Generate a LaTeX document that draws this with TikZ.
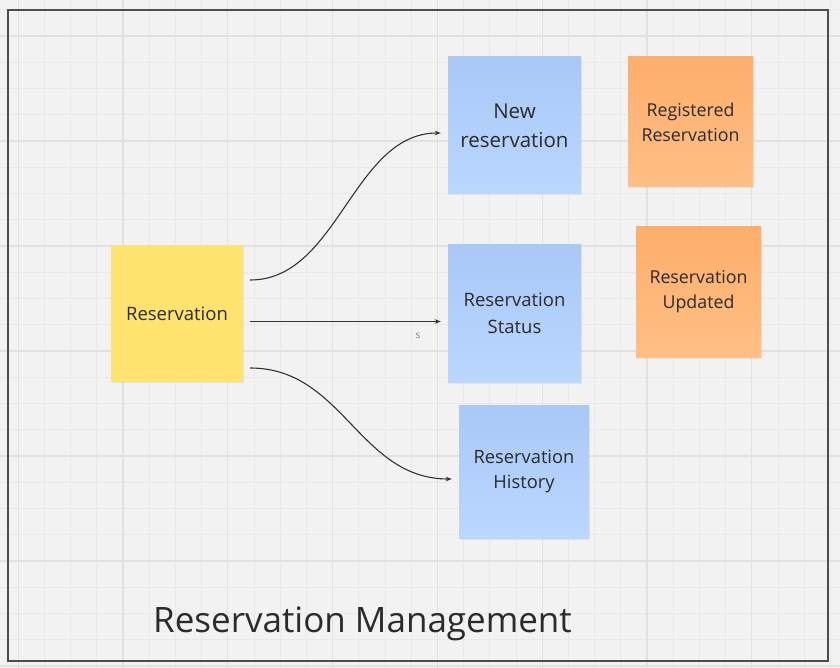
\documentclass[tikz,border=0pt]{standalone}
\usepackage{fontspec}
\setmainfont{Open Sans}
\usetikzlibrary{calc,arrows.meta,shadows}
\definecolor{bgc}{HTML}{F2F2F2}
\definecolor{gminor}{HTML}{E9E9E9}
\definecolor{gmajor}{HTML}{E1E1E1}
\definecolor{framec}{HTML}{4D4D4D}
\definecolor{yel}{HTML}{FEE46E}
\definecolor{bluetop}{HTML}{A9C8F6}
\definecolor{bluebot}{HTML}{B9D7FF}
\definecolor{orangetop}{HTML}{FDAE6B}
\definecolor{orangebot}{HTML}{FFBF85}
\definecolor{txt}{HTML}{2B2B2B}
\definecolor{linec}{HTML}{333333}
\tikzset{
  gridminor/.style={gminor, line width=0.8pt},
  gridmajor/.style={gmajor, line width=1.2pt},
  sticky/.style={draw=none, align=center, inner sep=0pt, text=txt,
    drop shadow={shadow xshift=0.8pt, shadow yshift=-1.5pt, opacity=0.12}},
  yellowsticky/.style={sticky, fill=yel},
  bluesticky/.style={sticky, top color=bluetop, bottom color=bluebot},
  orangesticky/.style={sticky, top color=orangetop, bottom color=orangebot},
  conn/.style={linec, line width=1.1pt, -{Stealth[length=6pt,width=4.5pt]},
    shorten >=7pt, shorten <=7pt},
}
\begin{document}
\begin{tikzpicture}[x=1pt,y=-1pt]
\useasboundingbox (0,0) rectangle (840,668);
\fill[bgc] (0,0) rectangle (840,668);
% grid
\foreach \i in {0,...,33} \draw[gridminor] ({-8+26.2*\i},0) -- ({-8+26.2*\i},668);
\foreach \i in {-1,...,25} \draw[gridminor] (0,{9.75+26.25*\i}) -- (840,{9.75+26.25*\i});
\foreach \i in {0,...,8} \draw[gridmajor] ({18.2+104.8*\i},0) -- ({18.2+104.8*\i},668);
\foreach \i in {0,...,6} \draw[gridmajor] (0,{36+105*\i}) -- (840,{36+105*\i});
% frame
\draw[framec, line width=2pt] (8,10) rectangle (828,661);
% stickies
\node[yellowsticky, minimum width=132pt, minimum height=136pt, font=\fontsize{18.5}{27}\selectfont] (res) at (177,313.5) {Reservation};
\node[bluesticky, minimum width=133pt, minimum height=137pt, font=\fontsize{20.5}{29}\selectfont] (new) at (514.5,125.5) {New\\reservation};
\node[bluesticky, minimum width=133pt, minimum height=137pt, font=\fontsize{18.5}{27}\selectfont] (status) at (514.5,313.5) {Reservation\\Status};
\node[bluesticky, minimum width=130pt, minimum height=133pt, font=\fontsize{18.3}{25.5}\selectfont] (hist) at (524,471.5) {Reservation\\History};
\node[orangesticky, minimum width=125pt, minimum height=130pt, font=\fontsize{17.8}{25}\selectfont] (reg) at (690.5,122) {Registered\\Reservation};
\node[orangesticky, minimum width=125pt, minimum height=130pt, font=\fontsize{17.8}{25}\selectfont] (upd) at (698.5,292) {Reservation\\Updated};
% connectors
\draw[conn] ($(res.east)+(0,-33.5)$) .. controls +(95,0) and +(-95,0) .. ($(new.west)+(0,7.5)$);
\draw[conn] ($(res.east)+(0,8)$) -- node[pos=0.854, yshift=-14pt, font=\fontsize{10}{12}\selectfont, text=gray] (slabel) {s} ($(status.west)+(0,8)$);
\draw[conn] ($(res.east)+(0,54.5)$) .. controls +(100,0) and +(-100,0) .. ($(hist.west)+(0,7.5)$);
% title
\node[anchor=base west, inner sep=0pt, text=txt, font=\fontsize{35}{40}\selectfont] (title) at (153,632) {Reservation Management};
\end{tikzpicture}
\end{document}
